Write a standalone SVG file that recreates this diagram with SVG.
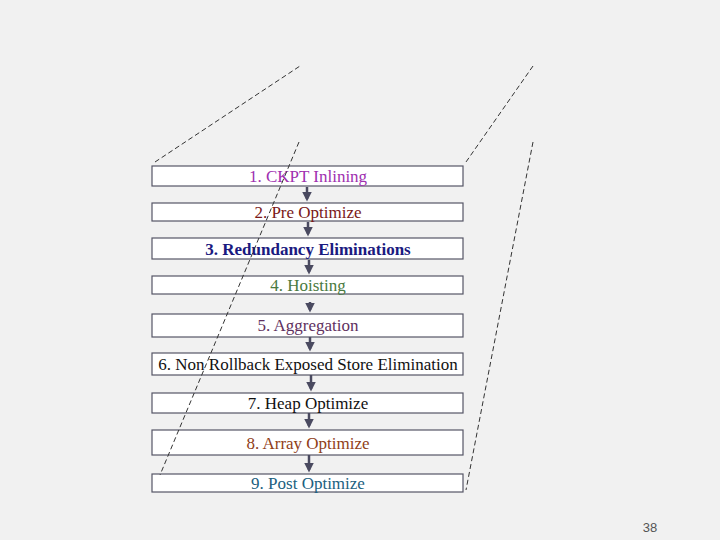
<svg xmlns="http://www.w3.org/2000/svg" width="720" height="540" viewBox="0 0 720 540">
<style>
.b{fill:#fff;stroke:#555566;stroke-width:1.2}
.t{font-family:"Liberation Serif",serif;font-size:17px;text-anchor:middle}
.d{stroke:#333;stroke-width:1;stroke-dasharray:5,3;fill:none}
.c{stroke:#4a4a60;stroke-width:2.5;marker-end:url(#a)}
</style>
<defs><marker id="a" markerWidth="4" markerHeight="4" refX="3" refY="2" orient="auto"><path d="M0,0L4,2L0,4z" fill="#4a4a60"/></marker></defs>
<rect width="720" height="540" fill="#f1f1f1"/>
<g id="n1"><rect class="b" x="152" y="166" width="311" height="20"/><text class="t" x="308" y="182" fill="#a030b0">1. CKPT Inlining</text></g>
<g id="n2"><rect class="b" x="152" y="203" width="311" height="18"/><text class="t" x="308" y="218" fill="#7a1818">2. Pre Optimize</text></g>
<g id="n3"><rect class="b" x="152" y="238" width="311" height="21"/><text class="t" x="308" y="255" fill="#1a1a80" font-weight="bold">3. Redundancy Eliminations</text></g>
<g id="n4"><rect class="b" x="152" y="276" width="311" height="18"/><text class="t" x="308" y="291" fill="#4a7a40">4. Hoisting</text></g>
<g id="n5"><rect class="b" x="152" y="314" width="311" height="23"/><text class="t" x="308" y="331" fill="#603060">5. Aggregation</text></g>
<g id="n6"><rect class="b" x="152" y="353" width="311" height="22"/><text class="t" x="308" y="370" fill="#111">6. Non Rollback Exposed Store Elimination</text></g>
<g id="n7"><rect class="b" x="152" y="393" width="311" height="20"/><text class="t" x="308" y="409" fill="#111">7. Heap Optimize</text></g>
<g id="n8"><rect class="b" x="152" y="430" width="311" height="25"/><text class="t" x="308" y="449" fill="#904018">8. Array Optimize</text></g>
<g id="n9"><rect class="b" x="152" y="474" width="311" height="18"/><text class="t" x="308" y="489" fill="#206080">9. Post Optimize</text></g>
<g id="dashes">
<path class="d" d="M155,162L300,66M533,66L466,162M299,142L160,475M533,142L466,490"/>
</g>
<g id="connectors">
<line class="c" x1="307" y1="187" x2="307" y2="199"/>
<line class="c" x1="308" y1="222" x2="308" y2="234"/>
<line class="c" x1="309" y1="260" x2="309" y2="272"/>
<line class="c" x1="310" y1="302" x2="310" y2="310"/>
<line class="c" x1="310" y1="337" x2="310" y2="349"/>
<line class="c" x1="311" y1="375" x2="311" y2="389"/>
<line class="c" x1="309" y1="413" x2="309" y2="426"/>
<line class="c" x1="309" y1="455" x2="309" y2="470"/>
</g>
<text x="650" y="532" font-family="Liberation Sans,sans-serif" font-size="13" fill="#555" text-anchor="middle">38</text>
</svg>
